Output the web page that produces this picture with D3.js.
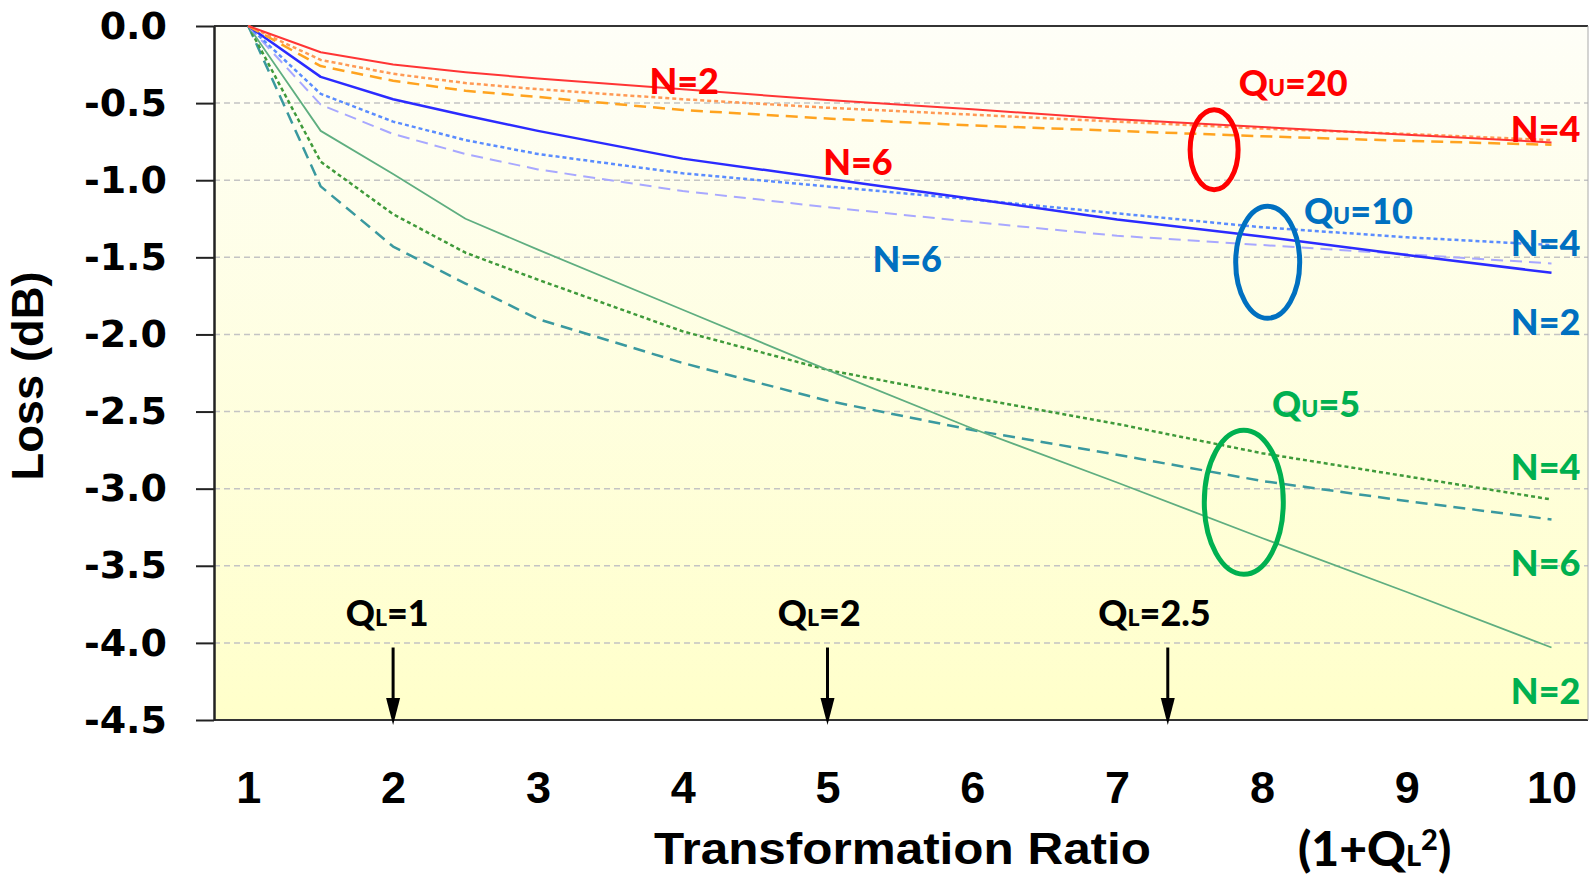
<!DOCTYPE html>
<html>
<head>
<meta charset="utf-8">
<script src="https://cdn.jsdelivr.net/npm/d3@7"></script>
<style>
  body { margin: 0; background: #fff; }
  svg { display: block; }
</style>
</head>
<body>
<div class="canvas"></div>
<script>
// transformation ratio samples (1 + QL^2)
const ratios = [1, 1.5, 2, 2.5, 3, 4, 5, 6, 7, 8, 9, 10];

// loss in dB
const qu20n2 = [0, -0.17, -0.25, -0.3, -0.34, -0.41, -0.48, -0.54, -0.605, -0.655, -0.705, -0.755];
const qu20n4 = [0, -0.22, -0.31, -0.37, -0.41, -0.475, -0.53, -0.575, -0.62, -0.665, -0.7, -0.74];
const qu20n6 = [0, -0.26, -0.355, -0.42, -0.46, -0.545, -0.6, -0.645, -0.68, -0.715, -0.745, -0.77];
const qu10n2 = [0, -0.33, -0.475, -0.58, -0.68, -0.86, -0.99, -1.12, -1.255, -1.365, -1.485, -1.6];
const qu10n4 = [0, -0.44, -0.62, -0.74, -0.83, -0.955, -1.04, -1.125, -1.215, -1.305, -1.37, -1.42];
const qu10n6 = [0, -0.51, -0.7, -0.83, -0.93, -1.07, -1.175, -1.27, -1.36, -1.42, -1.48, -1.54];
const qu5n2 = [0, -0.68, -0.96, -1.25, -1.45, -1.84, -2.23, -2.61, -2.96, -3.32, -3.67, -4.03];
const qu5n4 = [0, -0.88, -1.22, -1.47, -1.645, -1.98, -2.23, -2.41, -2.58, -2.77, -2.92, -3.07];
const qu5n6 = [0, -1.04, -1.43, -1.67, -1.9, -2.185, -2.43, -2.62, -2.78, -2.95, -3.08, -3.2];

const xTicks = [1, 2, 3, 4, 5, 6, 7, 8, 9, 10];
const yTicks = [0, -0.5, -1, -1.5, -2, -2.5, -3, -3.5, -4, -4.5];
const gridValues = [-0.5, -1, -1.5, -2, -2.5, -3, -3.5, -4];

// arrows pointing at the ratio for QL = 1, 2, 2.5 (as drawn in the original)
const arrowRatios = [2, 5, 7.35];

const series = [
  { name: "qu5n6", values: qu5n6 },
  { name: "qu5n4", values: qu5n4 },
  { name: "qu5n2", values: qu5n2 },
  { name: "qu10n6", values: qu10n6 },
  { name: "qu10n4", values: qu10n4 },
  { name: "qu10n2", values: qu10n2 },
  { name: "qu20n6", values: qu20n6 },
  { name: "qu20n4", values: qu20n4 },
  { name: "qu20n2", values: qu20n2 },
];

const lineStyle = {
  qu20n2: { color: "#ff3535", width: 2, dash: null },
  qu20n4: { color: "#ff9a55", width: 2.5, dash: "4,3" },
  qu20n6: { color: "#ffa31f", width: 2.5, dash: "12,7" },
  qu10n2: { color: "#2b2bff", width: 2.5, dash: null },
  qu10n4: { color: "#5a8cff", width: 2.5, dash: "4,3" },
  qu10n6: { color: "#a8a8ff", width: 2, dash: "12,7" },
  qu5n2: { color: "#5fae80", width: 1.8, dash: null },
  qu5n4: { color: "#3f9a3a", width: 2.5, dash: "4,3" },
  qu5n6: { color: "#3a999f", width: 2.5, dash: "12,7" },
};

const red = "#ff0000";
const blue = "#0070c0";
const green = "#00b050";

// annotation labels, placed in data units
const notes = [
  { text: "N=2", x: 3.77, y: -0.355, color: red },
  { q: "U", text: "=20", x: 7.84, y: -0.37, color: red },
  { text: "N=4", x: 10.2, y: -0.67, color: red, anchor: "end" },
  { text: "N=6", x: 4.97, y: -0.88, color: red },
  { q: "U", text: "=10", x: 8.29, y: -1.197, color: blue },
  { text: "N=4", x: 10.2, y: -1.408, color: blue, anchor: "end" },
  { text: "N=6", x: 5.31, y: -1.514, color: blue },
  { text: "N=2", x: 10.2, y: -1.922, color: blue, anchor: "end" },
  { q: "U", text: "=5", x: 8.07, y: -2.449, color: green },
  { text: "N=4", x: 10.2, y: -2.857, color: green, anchor: "end" },
  { text: "N=6", x: 10.2, y: -3.482, color: green, anchor: "end" },
  { text: "N=2", x: 10.2, y: -4.31, color: green, anchor: "end" },
  { q: "L", text: "=1", x: 1.673, y: -3.805, color: "#000" },
  { q: "L", text: "=2", x: 4.656, y: -3.805, color: "#000" },
  { q: "L", text: "=2.5", x: 6.87, y: -3.805, color: "#000" },
];

const rings = [
  { x: 7.67, y: -0.802, rx: 24, ry: 40, color: red },
  { x: 8.04, y: -1.532, rx: 32, ry: 56, color: blue },
  { x: 7.875, y: -3.088, rx: 39.5, ry: 72, color: green },
];

const dims = { width: 1590, height: 879 };
const frame = { left: 214, right: 1588, top: 26, bottom: 720 };

const svg = d3
  .select(".canvas")
  .append("svg")
  .attr("width", dims.width)
  .attr("height", dims.height);

const x = d3.scaleLinear().domain([1, 10]).range([248.3, 1551.5]);
const y = d3.scaleLinear().domain([-4.5, 0]).range([frame.bottom, frame.top]);

const grad = svg
  .append("defs")
  .append("linearGradient")
  .attr("id", "plotBg")
  .attr("x1", 0)
  .attr("y1", 0)
  .attr("x2", 0)
  .attr("y2", 1);
grad.append("stop").attr("offset", "0%").attr("stop-color", "#fefef7");
grad.append("stop").attr("offset", "100%").attr("stop-color", "#ffffca");

svg
  .append("rect")
  .attr("x", frame.left)
  .attr("y", frame.top)
  .attr("width", frame.right - frame.left)
  .attr("height", frame.bottom - frame.top)
  .attr("fill", "url(#plotBg)");

// grid
svg
  .append("g")
  .selectAll("line")
  .data(gridValues)
  .enter()
  .append("line")
  .attr("x1", frame.left)
  .attr("x2", frame.right)
  .attr("y1", (d) => y(d))
  .attr("y2", (d) => y(d))
  .attr("stroke", "#c4c4c4")
  .attr("stroke-width", 1.5)
  .attr("stroke-dasharray", "6,4");

// frame lines
svg
  .append("line")
  .attr("x1", frame.left)
  .attr("x2", frame.right)
  .attr("y1", frame.top)
  .attr("y2", frame.top)
  .attr("stroke", "#333")
  .attr("stroke-width", 2);
svg
  .append("line")
  .attr("x1", frame.left)
  .attr("x2", frame.right)
  .attr("y1", frame.bottom)
  .attr("y2", frame.bottom)
  .attr("stroke", "#333")
  .attr("stroke-width", 2);
svg
  .append("line")
  .attr("x1", frame.right)
  .attr("x2", frame.right)
  .attr("y1", frame.top)
  .attr("y2", frame.bottom)
  .attr("stroke", "#aaa")
  .attr("stroke-width", 1);

// curves
const line = d3
  .line()
  .x((d, i) => x(ratios[i]))
  .y((d) => y(d));

svg
  .append("g")
  .selectAll("path")
  .data(series)
  .enter()
  .append("path")
  .attr("d", (d) => line(d.values))
  .attr("fill", "none")
  .attr("stroke", (d) => lineStyle[d.name].color)
  .attr("stroke-width", (d) => lineStyle[d.name].width)
  .attr("stroke-dasharray", (d) => lineStyle[d.name].dash)
  .attr("stroke-linejoin", "round");

// y axis
const yAxis = d3
  .axisLeft(y)
  .tickValues(yTicks)
  .tickSize(18)
  .tickSizeOuter(0)
  .tickPadding(29)
  .tickFormat((d) => d.toFixed(1));

const yAxisGroup = svg
  .append("g")
  .attr("transform", `translate(${frame.left}, 0)`)
  .call(yAxis);

yAxisGroup.select(".domain").attr("stroke", "#222").attr("stroke-width", 2.5);
yAxisGroup.selectAll(".tick line").attr("stroke", "#222").attr("stroke-width", 2);
yAxisGroup
  .selectAll("text")
  .attr("fill", "#000")
  .attr("font-family", "'DejaVu Sans', sans-serif")
  .attr("font-weight", "bold")
  .attr("font-size", 38);

// x axis (labels only)
const xAxis = d3.axisBottom(x).tickValues(xTicks).tickSize(0).tickPadding(51);

const xAxisGroup = svg
  .append("g")
  .attr("transform", `translate(0, ${frame.bottom})`)
  .call(xAxis);

xAxisGroup.select(".domain").remove();
xAxisGroup
  .selectAll("text")
  .attr("fill", "#000")
  .attr("font-family", "'Liberation Sans', Arial, sans-serif")
  .attr("font-weight", "bold")
  .attr("font-size", 45);

// axis titles
svg
  .append("text")
  .attr("transform", "translate(43, 376) rotate(-90)")
  .attr("text-anchor", "middle")
  .attr("font-family", "'Liberation Sans', Arial, sans-serif")
  .attr("font-weight", "bold")
  .attr("font-size", 44)
  .attr("textLength", 209)
  .attr("lengthAdjust", "spacingAndGlyphs")
  .text("Loss (dB)");

svg
  .append("text")
  .attr("x", 654)
  .attr("y", 864)
  .attr("font-family", "'Liberation Sans', Arial, sans-serif")
  .attr("font-weight", "bold")
  .attr("font-size", 45)
  .attr("textLength", 497)
  .attr("lengthAdjust", "spacingAndGlyphs")
  .text("Transformation Ratio");

const unit = svg
  .append("text")
  .attr("x", 1298)
  .attr("y", 866)
  .attr("font-family", "Lato, 'Open Sans', sans-serif")
  .attr("font-weight", 900)
  .attr("font-size", 48)
  .attr("fill", "#000");
unit.append("tspan").text("(1+Q");
unit.append("tspan").attr("font-size", 29).text("L");
unit.append("tspan").attr("font-size", 29).attr("dy", -16).text("2");
unit.append("tspan").attr("dy", 16).text(")");

// QL arrows
const arrows = svg.append("g");
arrowRatios.forEach((r) => {
  const ax = x(r);
  arrows
    .append("line")
    .attr("x1", ax)
    .attr("x2", ax)
    .attr("y1", y(-4.03))
    .attr("y2", y(-4.5) - 20)
    .attr("stroke", "#000")
    .attr("stroke-width", 3);
  arrows
    .append("path")
    .attr(
      "d",
      `M${ax - 7},${y(-4.5) - 22} L${ax + 7},${y(-4.5) - 22} L${ax},${y(-4.5) + 5} Z`
    )
    .attr("fill", "#000");
});

// rings
svg
  .append("g")
  .selectAll("ellipse")
  .data(rings)
  .enter()
  .append("ellipse")
  .attr("cx", (d) => x(d.x))
  .attr("cy", (d) => y(d.y))
  .attr("rx", (d) => d.rx)
  .attr("ry", (d) => d.ry)
  .attr("fill", "none")
  .attr("stroke", (d) => d.color)
  .attr("stroke-width", 5);

// labels
const labelGroup = svg
  .append("g")
  .attr("font-family", "Lato, 'Open Sans', sans-serif")
  .attr("font-weight", 900)
  .attr("font-size", 36);

notes.forEach((d) => {
  const t = labelGroup
    .append("text")
    .attr("x", x(d.x))
    .attr("y", y(d.y) + 13)
    .attr("fill", d.color)
    .attr("text-anchor", d.anchor || "start");

  if (d.q) {
    t.append("tspan").text("Q");
    t.append("tspan").attr("font-size", 23).text(d.q);
  }
  t.append("tspan").text(d.text);
});
</script>
</body>
</html>
